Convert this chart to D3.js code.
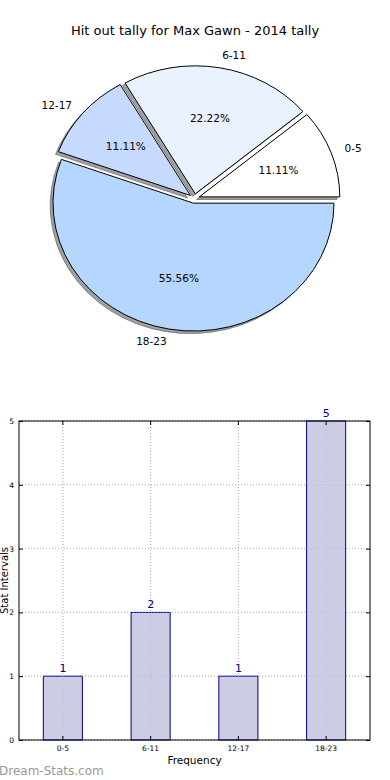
<!DOCTYPE html>
<html><head><meta charset="utf-8">
<script src="https://cdn.jsdelivr.net/npm/d3@7"></script>
<style>body{margin:0;background:#fff}svg{display:block;font-family:"DejaVu Sans",sans-serif}</style>
</head><body>
<svg id="c" width="390" height="780"></svg>
<script>
const title = "Hit out tally for Max Gawn - 2014 tally";
const categories = ["0-5","6-11","12-17","18-23"];
const counts = [1,2,1,5];
const sliceColors = ["#ffffff","#eaf1ff","#c6d9ff","#b4d6ff"];
const yTicks = [0,1,2,3,4,5];
const xLabel = "Frequency", yLabel = "Stat Intervals", watermark = "Dream-Stats.com";

const svg = d3.select("#c");
svg.append("rect").attr("width",390).attr("height",780).attr("fill","#fff");

// title
svg.append("text").attr("x",195).attr("y",35).attr("text-anchor","middle")
  .attr("font-size",13).attr("fill","#000").text(title);

// ---- pie (elliptical, exploded, with shadow) ----
const cx = 194.4, cy = 198.5, rx = 140.5, ry = 128, explode = 0.037;
const total = d3.sum(counts);
const pie = d3.pie().sort(null).startAngle(Math.PI/2).endAngle(Math.PI/2 - 2*Math.PI);
const arcs = pie(counts);
const unitArc = d3.arc().innerRadius(0).outerRadius(1);
function center(d){
  const m = (d.startAngle + d.endAngle)/2;
  return [cx + explode*rx*Math.sin(m), cy - explode*ry*Math.cos(m), m];
}
const pg = svg.append("g");
// shadows
arcs.forEach(d=>{
  const [x,y] = center(d);
  pg.append("path").attr("d",unitArc(d))
    .attr("transform",`translate(${x-0.02*rx},${y+0.02*ry}) scale(${rx},${ry})`)
    .attr("fill","#404448").attr("fill-opacity",0.5)
    .attr("stroke","#404448").attr("stroke-opacity",0.5).attr("stroke-width",1)
    .attr("vector-effect","non-scaling-stroke");
});
arcs.forEach((d,i)=>{
  const [x,y] = center(d);
  pg.append("path").attr("d",unitArc(d))
    .attr("transform",`translate(${x},${y}) scale(${rx},${ry})`)
    .attr("fill",sliceColors[i]).attr("stroke","#000").attr("stroke-width",1)
    .attr("vector-effect","non-scaling-stroke");
});
arcs.forEach((d,i)=>{
  const [x,y,m] = center(d);
  const sx = Math.sin(m), sy = -Math.cos(m);
  pg.append("text").attr("x",x+1.1*rx*sx).attr("y",y+1.1*ry*sy)
    .attr("dy","0.35em").attr("text-anchor", sx>0?"start":"end")
    .attr("font-size",10.5).text(categories[i]);
  pg.append("text").attr("x",x+0.6*rx*sx).attr("y",y+0.6*ry*sy)
    .attr("dy","0.35em").attr("text-anchor","middle")
    .attr("font-size",10.5).text((100*counts[i]/total).toFixed(2)+"%");
});

// ---- bar chart ----
const L=19,R=370,T=421,B=740;
const x = d3.scaleBand().domain(categories).range([L,R]).paddingInner(0.555).paddingOuter(0.2775);
const xc = d => x(d)+x.bandwidth()/2;
const y = d3.scaleLinear().domain([0,5]).range([B,T]);
const bg = svg.append("g");
// grid
yTicks.forEach(t=>{
  bg.append("line").attr("x1",L).attr("x2",R).attr("y1",y(t)).attr("y2",y(t))
    .attr("stroke","#b5b5b5").attr("stroke-dasharray","1,2");
});
categories.forEach(c=>{
  bg.append("line").attr("x1",xc(c)).attr("x2",xc(c)).attr("y1",T).attr("y2",B)
    .attr("stroke","#b5b5b5").attr("stroke-dasharray","1,2");
});
// bars
bg.selectAll("rect.bar").data(categories).enter().append("rect").attr("class","bar")
  .attr("x",c=>x(c)).attr("width",x.bandwidth())
  .attr("y",(c,i)=>y(counts[i])).attr("height",(c,i)=>B-y(counts[i]))
  .attr("fill","#ccccE5").attr("stroke","#00008b").attr("stroke-width",1);
// grid over bars
yTicks.forEach(t=>{
  bg.append("line").attr("x1",L).attr("x2",R).attr("y1",y(t)).attr("y2",y(t))
    .attr("stroke","#b5b5b5").attr("stroke-opacity",0.6).attr("stroke-dasharray","1,2");
});
categories.forEach(c=>{
  bg.append("line").attr("x1",xc(c)).attr("x2",xc(c)).attr("y1",T).attr("y2",B)
    .attr("stroke","#b5b5b5").attr("stroke-opacity",0.6).attr("stroke-dasharray","1,2");
});
// value labels
categories.forEach((c,i)=>{
  bg.append("text").attr("x",xc(c)).attr("y",y(counts[i])-4).attr("text-anchor","middle")
    .attr("font-size",11).attr("fill","#00008b").text(counts[i]);
});
// frame
bg.append("rect").attr("x",L).attr("y",T).attr("width",R-L).attr("height",B-T)
  .attr("fill","none").attr("stroke","#000").attr("stroke-width",1);
// axes (ticks inward)
const yAxis = d3.axisLeft(y).tickValues(yTicks).tickSize(-4).tickPadding(5).tickFormat(d3.format("d"));
const ya = bg.append("g").attr("transform",`translate(${L},0)`).call(yAxis);
ya.select(".domain").remove();
ya.selectAll("text").attr("font-size",7.5).attr("font-family","DejaVu Sans");
const yR = bg.append("g").attr("transform",`translate(${R},0)`).call(d3.axisRight(y).tickValues(yTicks).tickSize(-4).tickFormat(""));
yR.select(".domain").remove();
const xAxis = d3.axisBottom(x).tickSize(-4).tickPadding(6);
const xa = bg.append("g").attr("transform",`translate(0,${B})`).call(xAxis);
xa.select(".domain").remove();
xa.selectAll("text").attr("font-size",7.5).attr("font-family","DejaVu Sans");
const xT = bg.append("g").attr("transform",`translate(0,${T})`).call(d3.axisTop(x).tickSize(-4).tickFormat(""));
xT.select(".domain").remove();
// axis labels
svg.append("text").attr("x",(L+R)/2).attr("y",764).attr("text-anchor","middle")
  .attr("font-size",10.5).text(xLabel);
svg.append("text").attr("transform",`translate(8,${(T+B)/2}) rotate(-90)`)
  .attr("text-anchor","middle").attr("font-size",10).text(yLabel);
svg.append("text").attr("x",-1).attr("y",775).attr("font-size",12)
  .attr("fill","#999").text(watermark);
</script>
</body></html>
